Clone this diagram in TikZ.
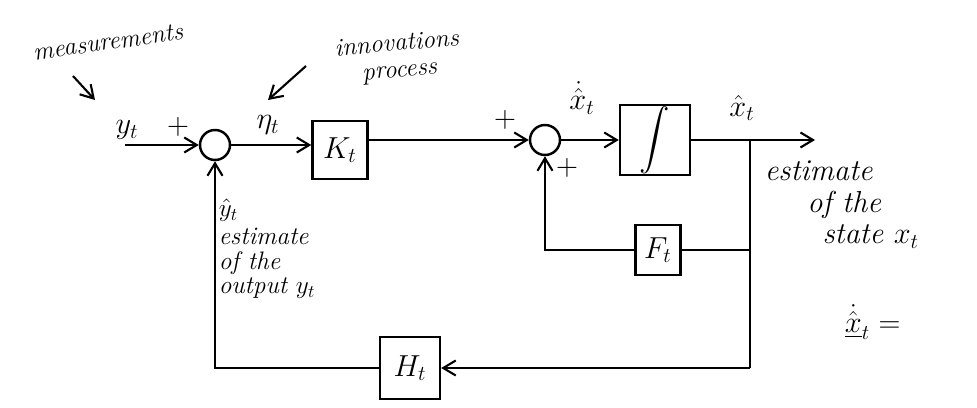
\documentclass[tikz,border=0pt]{standalone}
\usepackage{amsmath}
\usepackage{tikz}
\usetikzlibrary{positioning,calc,arrows.meta}

\begin{document}
\begin{tikzpicture}[x=0.02cm,y=-0.02cm,line width=1.2pt,>={Straight Barb[length=2.5mm,width=3mm]}]
  \tikzset{block/.style 2 args={draw,line width=1.4pt,minimum width=#1,minimum height=#2,inner sep=0pt,font=\LARGE}}%
  \tikzset{sum circle/.style={draw,circle,line width=1.4pt,minimum size=0.6cm,inner sep=0pt}}%
  \tikzset{note/.style={font=\Large\itshape,align=left,inner sep=1pt}}%
  \tikzset{sig/.style={font=\LARGE,inner sep=1pt}}%
  \useasboundingbox (0,0) rectangle (977,408);

  % summing junctions and blocks
  \node [sum circle] (S1) at (215,145) {};
  \node [block={1.1cm}{1.15cm}] (K) at (340,150) {$K_t$};
  \node [sum circle] (S2) at (545,140) {};
  \node [block={1.4cm}{1.4cm}] (I) at (655,140) {$\displaystyle\int$};
  \node [block={0.9cm}{1.0cm}] (F) at (658,250) {$F_t$};
  \node [block={1.2cm}{1.25cm}] (H) at (410,368) {$H_t$};

  \coordinate (in) at (125,145);
  \coordinate (out) at (815,140);
  \coordinate (br) at (750,140);
  \coordinate (brF) at (750,250);
  \coordinate (brH) at (750,368);

  % forward path
  \draw[->] (in) -- (S1);
  \draw[->] (S1) -- (S1 -| K.west);
  \draw[->] (K.east |- S2) -- (S2);
  \draw[->] (S2) -- (I);
  \draw[->] (I) -- (out);

  % feedback loops
  \draw (br) -- (brH);
  \draw (brF) -- (F);
  \draw[->] (F) -| (S2);
  \draw[->] (brH) -- (H);
  \draw[->] (H) -| (S1);

  % signal labels
  \node[sig] (yt) at (127,130) {$y_t$};
  \node[sig] (p1) at (178,127) {$+$};
  \node[sig] (eta) at (268,125) {$\eta_t$};
  \node[sig] (p2) at (505,120) {$+$};
  \node[sig] (xdot) at (582,98) {$\dot{\hat{x}}_t$};
  \node[sig] (p3) at (567,168) {$+$};
  \node[sig] (xhat) at (742,108) {$\hat{x}_t$};

  % notes
  \node[note,rotate=8] (meas) at (108,42) {measurements};
  \coordinate (measend) at (95,100);
  \draw[->] (73,76) -- (measend);
  \node[note,rotate=5] (innov) at (398,58) {innovations\\[-3pt]\hspace*{1em}process};
  \coordinate (innovend) at (268,100);
  \draw[->] (306,66) -- (innovend);
  \node[note,font=\LARGE\itshape,anchor=north west] (est) at (762,158)
    {estimate\\[-4pt]\hspace*{1.4em}of the\\[-4pt]\hspace*{1.9em}state $x_t$};
  \node[note,anchor=north west] (yest) at (216,196)
    {$\hat{y}_t$\\[-2pt]estimate\\[-4pt]of the\\[-4pt]output $y_t$};
  \node[font=\LARGE,anchor=west] (eq) at (838,322) {$\dot{\hat{\underline{x}}}_t =$};
\end{tikzpicture}
\end{document}
